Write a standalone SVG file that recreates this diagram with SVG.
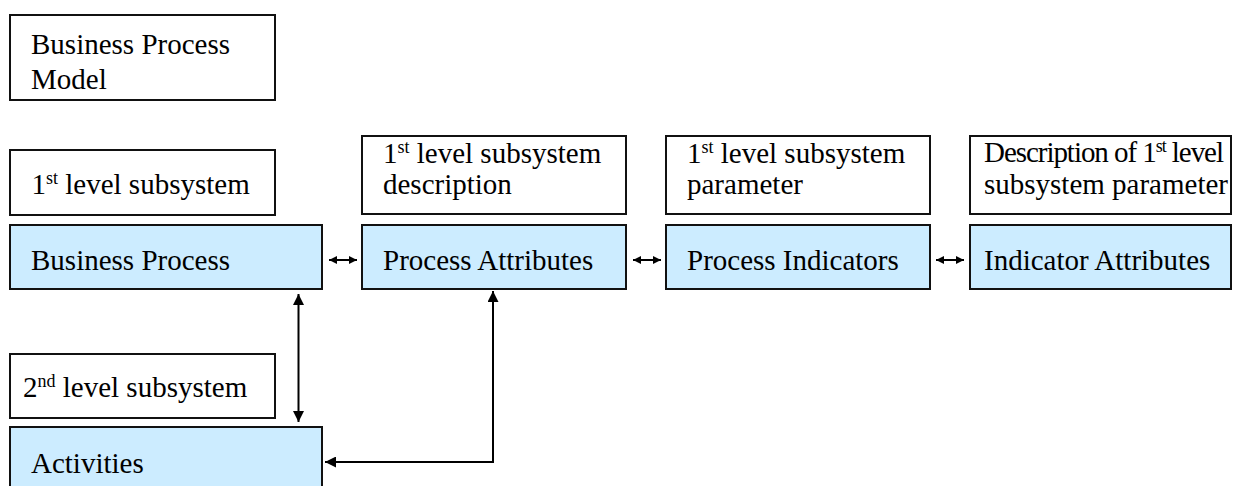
<svg xmlns="http://www.w3.org/2000/svg" width="1234" height="486" viewBox="0 0 1234 486">
<style>
.box{fill:#ffffff;stroke:#111111;stroke-width:2}
.blue{fill:#CCECFF;stroke:#111111;stroke-width:2}
.t{font-family:"Liberation Serif","Times New Roman",serif;font-size:29px;fill:#000000}
.sup{font-size:18px}
.conn{fill:none;stroke:#000000;stroke-width:2}
</style>
<defs>
<marker id="sm" viewBox="0 0 10 10" refX="10" refY="5" markerUnits="userSpaceOnUse" markerWidth="9" markerHeight="8" orient="auto-start-reverse"><path d="M0,0 L10,5 L0,10 z" fill="#000"/></marker>
<marker id="lg" viewBox="0 0 10 10" refX="10" refY="5" markerUnits="userSpaceOnUse" markerWidth="11" markerHeight="11" orient="auto-start-reverse"><path d="M0,0 L10,5 L0,10 z" fill="#000"/></marker>
</defs>
<rect x="0" y="0" width="1234" height="486" fill="#ffffff"/>

<g id="bpm">
<rect class="box" x="10" y="15" width="265" height="85"/>
<text class="t" x="31" y="54">Business Process</text>
<text class="t" x="31" y="89">Model</text>
</g>

<g id="lvl1">
<rect class="box" x="10" y="150" width="265" height="65"/>
<text class="t" x="31.5" y="194">1<tspan class="sup" dy="-10">st</tspan><tspan dy="10"> level subsystem</tspan></text>
</g>

<g id="lvl1desc">
<rect class="box" x="362" y="136" width="264" height="78"/>
<text class="t" x="383" y="163">1<tspan class="sup" dy="-10">st</tspan><tspan dy="10"> level subsystem</tspan></text>
<text class="t" x="383" y="194">description</text>
</g>

<g id="lvl1param">
<rect class="box" x="666" y="136" width="264" height="78"/>
<text class="t" x="687" y="163">1<tspan class="sup" dy="-10">st</tspan><tspan dy="10"> level subsystem</tspan></text>
<text class="t" x="687" y="194">parameter</text>
</g>

<g id="lvl1paramdesc">
<rect class="box" x="970" y="136" width="261" height="78"/>
<text class="t" x="984" y="162" textLength="240" lengthAdjust="spacing">Description of 1<tspan class="sup" dy="-10">st</tspan><tspan dy="10"> level</tspan></text>
<text class="t" x="984" y="194">subsystem parameter</text>
</g>

<g id="bp">
<rect class="blue" x="10" y="225" width="312" height="64"/>
<text class="t" x="31" y="270">Business Process</text>
</g>

<g id="pa">
<rect class="blue" x="362" y="225" width="264" height="64"/>
<text class="t" x="383" y="270">Process Attributes</text>
</g>

<g id="pi">
<rect class="blue" x="666" y="225" width="264" height="64"/>
<text class="t" x="687" y="270">Process Indicators</text>
</g>

<g id="ia">
<rect class="blue" x="970" y="225" width="261" height="64"/>
<text class="t" x="984" y="270">Indicator Attributes</text>
</g>

<g id="lvl2">
<rect class="box" x="10" y="354" width="265" height="64"/>
<text class="t" x="23" y="397">2<tspan class="sup" dy="-10">nd</tspan><tspan dy="10"> level subsystem</tspan></text>
</g>

<g id="act">
<rect class="blue" x="10" y="427" width="312" height="70"/>
<text class="t" x="31" y="473">Activities</text>
</g>

<g id="connectors">
<line class="conn" x1="329" y1="260" x2="357" y2="260" marker-start="url(#sm)" marker-end="url(#sm)"/>
<line class="conn" x1="633" y1="260" x2="661" y2="260" marker-start="url(#sm)" marker-end="url(#sm)"/>
<line class="conn" x1="936" y1="260" x2="964" y2="260" marker-start="url(#sm)" marker-end="url(#sm)"/>
<line class="conn" x1="298.5" y1="294" x2="298.5" y2="422" marker-start="url(#lg)" marker-end="url(#lg)"/>
<polyline class="conn" points="493,291 493,462 325,462" marker-start="url(#lg)" marker-end="url(#lg)"/>
</g>
</svg>
